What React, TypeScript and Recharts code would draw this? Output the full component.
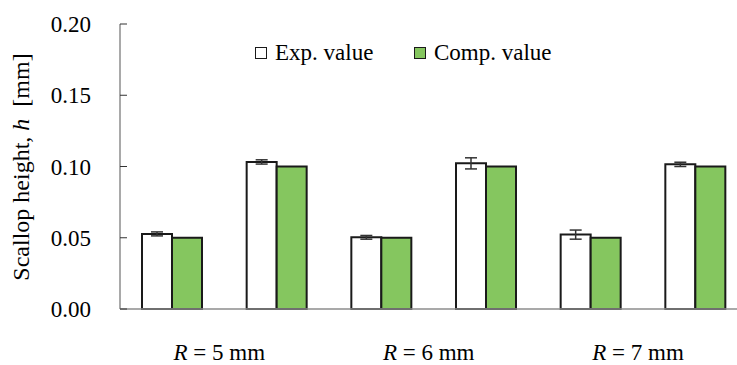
import React from "react";
import { BarChart, Bar, XAxis, YAxis, ErrorBar, Legend } from "recharts";

document.body.style.margin = "0";

const FONT = "'Liberation Serif', 'Times New Roman', serif";

// two bars per radius, three radii
const categories = ["R5-1", "R5-2", "R6-1", "R6-2", "R7-1", "R7-2"];
const radiusLabels = ["5", "5", "6", "6", "7", "7"];
const expValues = [0.0527, 0.1032, 0.0503, 0.1022, 0.0522, 0.1015];
const expErrors = [0.0014, 0.0015, 0.0013, 0.0039, 0.0032, 0.0015];
const compValues = [0.05, 0.1, 0.05, 0.1, 0.05, 0.1];
const yTicks = [0, 0.05, 0.1, 0.15, 0.2];

const series = [
  { key: "exp", name: "Exp. value", fill: "#FFFFFF" },
  { key: "comp", name: "Comp. value", fill: "#85C65F" },
];

const data = categories.map((c, i) => ({
  cat: c,
  radius: radiusLabels[i],
  exp: expValues[i],
  expErr: expErrors[i],
  comp: compValues[i],
}));

const HALF_BAND = 52;
const Y_LABEL_RIGHT = 91;

const XTick = (props: any) => {
  const { x, y, index } = props;
  if (index % 2 !== 0) return <g />;
  const r = data[index].radius;
  return (
    <text
      x={x + HALF_BAND - 5}
      y={y + 43}
      textAnchor="middle"
      fontFamily={FONT}
      fontSize={23}
      fill="#000"
    >
      <tspan fontStyle="italic">R</tspan>
      <tspan>{` = ${r} mm`}</tspan>
    </text>
  );
};

const YTick = (props: any) => {
  const { y, payload } = props;
  return (
    <text
      x={Y_LABEL_RIGHT}
      y={y}
      dy="0.355em"
      textAnchor="end"
      fontFamily={FONT}
      fontSize={23}
      fill="#000"
    >
      {Number(payload.value).toFixed(2)}
    </text>
  );
};

const YTitle = () => (
  <text
    x={29}
    y={167}
    transform="rotate(-90, 29, 167)"
    textAnchor="middle"
    fontFamily={FONT}
    fontSize={24}
    fill="#000"
  >
    <tspan>Scallop height, </tspan>
    <tspan fontStyle="italic">h</tspan>
    <tspan>{"\u00A0\u00A0[mm]"}</tspan>
  </text>
);

const LegendContent = () => (
  <div
    style={{
      display: "flex",
      alignItems: "center",
      fontFamily: FONT,
      fontSize: 23,
      color: "#000",
      whiteSpace: "nowrap",
    }}
  >
    {series.map((s) => (
      <div
        key={s.key}
        style={{ display: "flex", alignItems: "center", width: 159 }}
      >
        <span
          style={{
            display: "inline-block",
            width: 10,
            height: 10,
            border: "1.5px solid #1a1a1a",
            background: s.fill,
            marginRight: 8,
          }}
        />
        <span>{s.name}</span>
      </div>
    ))}
  </div>
);

export default function App() {
  return (
    <BarChart
      width={737}
      height={365}
      data={data}
      margin={{ top: 24, right: -11, left: 0, bottom: 0 }}
      barGap={0}
    >
      <XAxis
        dataKey="cat"
        height={56}
        axisLine={{ stroke: "#8c8c8c", strokeWidth: 1.5 }}
        tickLine={false}
        tick={<XTick />}
        interval={0}
      />
      <YAxis
        width={120}
        domain={[0, 0.2]}
        ticks={yTicks}
        axisLine={{ stroke: "#8c8c8c", strokeWidth: 1.5 }}
        tickLine={{ stroke: "#333", strokeWidth: 1 }}
        tickSize={-7}
        tick={<YTick />}
        label={<YTitle />}
      />
      <Legend
        layout="vertical"
        verticalAlign="middle"
        align="center"
        content={<LegendContent />}
        wrapperStyle={{ top: 40, left: 255, width: "auto" }}
      />
      <Bar
        dataKey="exp"
        name="Exp. value"
        fill="#FFFFFF"
        stroke="#1a1a1a"
        strokeWidth={2}
        barSize={30}
        isAnimationActive={false}
      >
        <ErrorBar dataKey="expErr" width={6} stroke="#333" strokeWidth={1.5} />
      </Bar>
      <Bar
        dataKey="comp"
        name="Comp. value"
        fill="#85C65F"
        stroke="#1a1a1a"
        strokeWidth={2}
        barSize={30}
        isAnimationActive={false}
      />
    </BarChart>
  );
}
